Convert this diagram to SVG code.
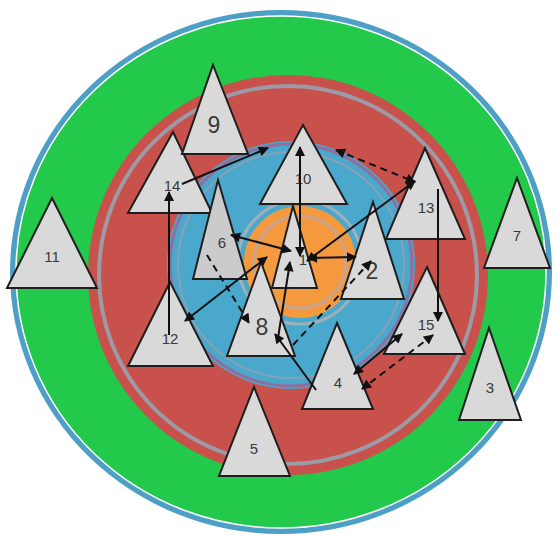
<svg xmlns="http://www.w3.org/2000/svg" width="556" height="537" viewBox="0 0 556 537">
<defs>
<marker id="ah" viewBox="0 0 10 10" refX="9" refY="5" markerWidth="11" markerHeight="10" markerUnits="userSpaceOnUse" orient="auto-start-reverse">
<path d="M0,0 L10,5 L0,10 z" fill="#111"/>
</marker>
<style>
.tri{fill:#d9d9d9;stroke:#1e1e1e;stroke-width:2;stroke-linejoin:miter}
.lbl{font-family:"Liberation Sans",Arial,sans-serif;font-size:15px;fill:#3a3a3a;text-anchor:middle}
.big{font-size:23px}
.c{stroke:#111;stroke-width:2;fill:none}
.d{stroke-dasharray:7,5}
.s{marker-end:url(#ah)}
.b{marker-start:url(#ah);marker-end:url(#ah)}
</style>
</defs>
<rect width="556" height="537" fill="#ffffff"/>
<g id="rings">
<ellipse cx="281" cy="272" rx="271" ry="262" fill="#4d9fc6"/>
<ellipse cx="281" cy="272" rx="265" ry="256" fill="#22c94a" stroke="#ffffff" stroke-width="1.5"/>
<circle cx="288" cy="275" r="200" fill="#c9514b"/>
<circle cx="288" cy="275" r="189" fill="none" stroke="#9b9aa6" stroke-width="4"/>
<circle cx="291" cy="265" r="124" fill="#4aa8cd"/>
<circle cx="291" cy="265" r="121" fill="none" stroke="#8f6f9d" stroke-width="3"/>
<circle cx="291" cy="265" r="113" fill="none" stroke="#8aa0b4" stroke-width="2"/>
<circle cx="300" cy="262" r="62" fill="none" stroke="#9fb0bd" stroke-width="3"/>
<circle cx="300" cy="262" r="56" fill="#f5993f"/>
<circle cx="300" cy="262" r="46" fill="none" stroke="#c9a590" stroke-width="3"/>
</g>
<g id="node11"><polygon class="tri" points="52,198 97,288 7,288"/><text class="lbl" x="52" y="262">11</text></g>
<g id="node7"><polygon class="tri" points="517,178 550,268 484,268"/><text class="lbl" x="517" y="241">7</text></g>
<g id="node3"><polygon class="tri" points="489,328 521,420 459,420"/><text class="lbl" x="490" y="393">3</text></g>
<g id="node5"><polygon class="tri" points="254,387 290,476 219,476"/><text class="lbl" x="254" y="454">5</text></g>
<g id="node14"><polygon class="tri" points="173,132 212,213 128,213"/><text class="lbl" x="172" y="191">14</text></g>
<g id="node9"><polygon class="tri" points="213,65 248,154 182,154"/><text class="lbl big" x="214" y="133">9</text></g>
<g id="node10"><polygon class="tri" points="303,125 347,204 260,204"/><text class="lbl" x="303" y="184">10</text></g>
<g id="node13"><polygon class="tri" points="425,148 465,239 386,239"/><text class="lbl" x="426" y="213">13</text></g>
<g id="node6"><polygon class="tri" points="218,180 247,279 193,279" style="fill:#cbcbcb"/><text class="lbl" x="222" y="248">6</text></g>
<g id="node2"><polygon class="tri" points="373,202 404,299 341,299"/><text class="lbl big" x="372" y="279">2</text></g>
<g id="node12"><polygon class="tri" points="170,282 213,366 128,366"/><text class="lbl" x="170" y="344">12</text></g>
<g id="node8"><polygon class="tri" points="261,262 295,356 227,356"/><text class="lbl big" x="262" y="335">8</text></g>
<g id="node1"><polygon class="tri" points="293,206 317,288 272,288"/><text class="lbl" x="303" y="265">1</text></g>
<g id="node15"><polygon class="tri" points="427,267 465,354 384,354"/><text class="lbl" x="426" y="330">15</text></g>
<g id="node4"><polygon class="tri" points="337,323 373,409 302,409"/><text class="lbl" x="338" y="388">4</text></g>
<g id="connectors">
<line class="c s" x1="182" y1="184" x2="268" y2="148"/>
<line class="c s" x1="169" y1="335" x2="169" y2="192"/>
<line class="c b" x1="300" y1="147" x2="300" y2="256"/>
<line class="c d b" x1="336" y1="150" x2="415" y2="182"/>
<line class="c b" x1="415" y1="181" x2="307" y2="261"/>
<line class="c s" x1="438" y1="189" x2="438" y2="321"/>
<line class="c b" x1="308" y1="258" x2="356" y2="257"/>
<line class="c b" x1="291" y1="251" x2="231" y2="235"/>
<line class="c b" x1="185" y1="321" x2="267" y2="257"/>
<line class="c d s" x1="207" y1="255" x2="249" y2="323"/>
<line class="c s" x1="316" y1="390" x2="275" y2="334"/>
<line class="c s" x1="278" y1="338" x2="290" y2="262"/>
<line class="c d s" x1="293" y1="345" x2="371" y2="261"/>
<line class="c b" x1="354" y1="374" x2="402" y2="334"/>
<line class="c d b" x1="433" y1="335" x2="362" y2="389"/>
</g>
</svg>
